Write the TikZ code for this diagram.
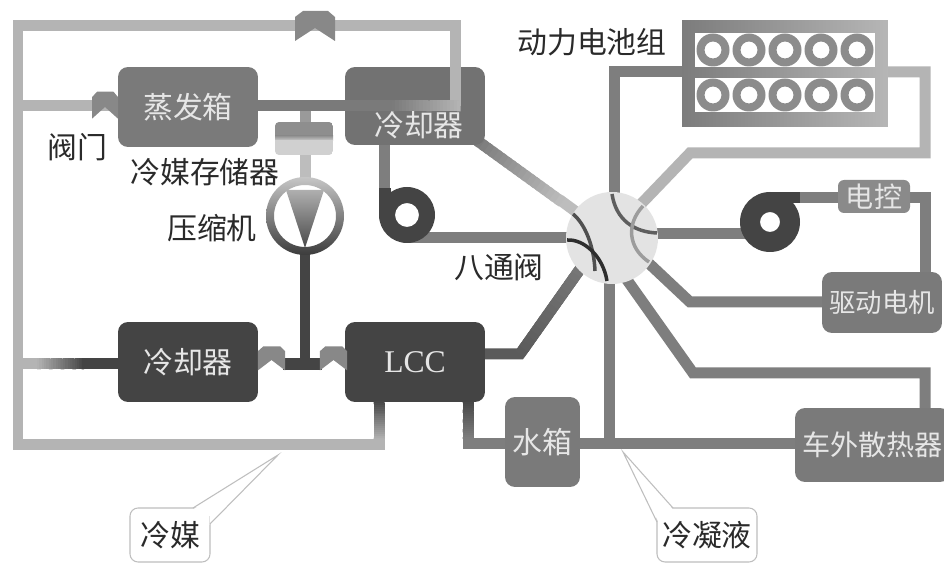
\documentclass[tikz,border=0pt]{standalone}
\usepackage{fontspec}
\setmainfont{Liberation Serif}
\newfontfamily\cjk{Noto Sans CJK SC}
\usetikzlibrary{calc}

\definecolor{dk}{HTML}{444444}
\definecolor{md}{HTML}{7A7A7A}
\definecolor{mdb}{HTML}{727272}
\definecolor{cl}{HTML}{7E7E7E}
\definecolor{lt}{HTML}{B4B4B4}
\definecolor{ltr}{HTML}{BDBDBD}
\definecolor{vlv}{HTML}{888888}
\definecolor{ecuc}{HTML}{8A8A8A}
\definecolor{ball}{HTML}{E3E3E3}
\definecolor{txtl}{HTML}{E6E6E6}
\definecolor{txtd}{HTML}{2A2A2A}
\definecolor{bub}{HTML}{BEBEBE}
\definecolor{lccp}{HTML}{5A5A5A}
\definecolor{stl}{HTML}{9A9A9A}
\definecolor{stA}{HTML}{8E8E8E}
\definecolor{stB}{HTML}{D0D0D0}
\definecolor{cmpt}{HTML}{C6C6C6}
\definecolor{cmpb}{HTML}{3C3C3C}
\definecolor{batl}{HTML}{7C7C7C}
\definecolor{batr}{HTML}{B6B6B6}
\definecolor{ringc}{HTML}{8C8C8C}
\definecolor{arcA}{HTML}{5E5E5E}
\definecolor{arcB}{HTML}{9C9C9C}
\definecolor{arcC}{HTML}{505050}
\definecolor{arcD}{HTML}{2E2E2E}

\tikzset{
  pipe/.style={line width=0.22cm},
  unitbox/.style={rounded corners=0.2cm, inner sep=0pt, text=txtl,
    font=\cjk\fontsize{17}{20}\selectfont},
  lbl/.style={inner sep=0pt, text=txtd, font=\cjk\fontsize{17}{20}\selectfont},
  bubble/.style={draw=bub, line width=0.6pt, fill=white, rounded corners=0.16cm,
    inner sep=0pt, text=txtd, font=\cjk\fontsize{17}{20}\selectfont},
  arcline/.style={line width=0.07cm}
}

% pipe whose colour fades from #3 to #4 between points #1 and #2
\newcommand\gradpipe[4]{%
  \foreach \k in {0,...,19}{%
    \pgfmathsetmacro\gpa{\k/20}%
    \pgfmathsetmacro\gpb{min(1,(\k+1.6)/20)}%
    \pgfmathsetmacro\gpc{97.5-5*\k}%
    \draw[pipe, line cap=butt, draw=#3!\gpc!#4] ($(#1)!\gpa!(#2)$) -- ($(#1)!\gpb!(#2)$);%
  }}

% valve symbol: x, y, xscale, yscale
\newcommand\valvesym[4]{%
  \fill[vlv, shift={(#1,#2)}, xscale=#3, yscale=#4]
    (-12,-17) -- (13,-17) -- (20,-11) -- (20,13) -- (0,0) -- (-20,13) -- (-20,-11) -- cycle;}

\begin{document}
\begin{tikzpicture}[x=0.02cm, y=-0.02cm]
\useasboundingbox (0,0) rectangle (944,563);
\fill[white] (0,0) rectangle (944,563);

% ---------- coolant circuit ----------
\draw[pipe, cl] (614,238) -- (614,72) -- (700,72);
\draw[pipe, lt] (880,72) -- (925,72) -- (925,153) -- (690,153) -- (618,228);
\draw[pipe, ltr] (560,200) -- (605,233);
\gradpipe{468,134}{562,202}{mdb}{ltr}
\draw[pipe, cl] (384,140) -- (384,192);
\draw[pipe, cl] (407,238) -- (600,238);
\draw[pipe, cl] (625,234) -- (760,234);
\draw[pipe, cl] (790,197.5) -- (845,197.5);
\draw[pipe, cl] (900,197.5) -- (925,197.5) -- (925,280);
\draw[pipe, cl] (640,255) -- (690,302) -- (830,302);
\draw[pipe, cl] (615,263) -- (693,373) -- (925,373) -- (925,415);
\draw[pipe, cl] (609,240) -- (609,444);
\draw[pipe, cl] (575,444) -- (800,444);
\draw[pipe, cl] (468,395) -- (468,444) -- (510,444);
\gradpipe{468,400}{468,439}{dk}{cl}
\draw[pipe, lccp] (480,354) -- (520,354) -- (595,248);
\gradpipe{520,354}{595,248}{lccp}{cl}

% ---------- refrigerant branches ----------
\draw[pipe, lt] (18,106) -- (120,106);
\draw[pipe, lt] (18,364) -- (40,364);
\gradpipe{37,364}{84,364}{lt}{dk}
\draw[pipe, dk] (82,364) -- (125,364);
\draw[pipe, stl] (305,106) -- (305,125);
\draw[pipe, ltr] (305,150) -- (305,182);
\draw[line width=0.2cm, dk] (305,250) -- (305,364);
\draw[line width=0.24cm, dk] (283,364) -- (322,364);

% ---------- units ----------
\node[unitbox, fill=md, minimum width=2.8cm, minimum height=1.6cm] (evap) at (188,107) {蒸发箱};
\node[unitbox, fill=mdb, minimum width=2.8cm, minimum height=1.56cm] (coolA) at (415,106) {};
\node[unitbox, fill=dk, minimum width=2.8cm, minimum height=1.6cm] (coolB) at (188,362) {冷却器};
\node[unitbox, fill=dk, minimum width=2.8cm, minimum height=1.6cm,
      font=\fontsize{18}{20}\selectfont] (lcc) at (415,362) {LCC};
\node[unitbox, fill=md, minimum width=1.5cm, minimum height=1.8cm] (tank) at (542.5,442) {水箱};
\node[unitbox, fill=md, minimum width=3.1cm, minimum height=1.48cm,
      font=\cjk\fontsize{16}{20}\selectfont] (rad) at (872.5,445) {车外散热器};
\node[unitbox, fill=md, minimum width=2.4cm, minimum height=1.22cm,
      font=\cjk\fontsize{15}{18}\selectfont] (motor) at (882,302.5) {驱动电机};
\node[unitbox, fill=ecuc, minimum width=1.44cm, minimum height=0.66cm, rounded corners=0.12cm,
      font=\cjk\fontsize{16}{18}\selectfont] (ecu) at (874,196.5) {电控};
\node[unitbox] (coolAtext) at (419,125) {冷却器};

% ---------- refrigerant main loop ----------
\draw[pipe, lt] (379,420) -- (379,445) -- (18,445) -- (18,26) -- (455,26) -- (455,106);
\draw[pipe, md] (256,106) -- (395,106);
\gradpipe{392,106}{460.5,106}{md}{lt}
\gradpipe{379,401}{379,439.5}{dk}{lt}

% ---------- coils ----------
\fill[dk, even odd rule] (407,215) circle (28) (407,215) circle (12);
\fill[dk] (378.5,188) rectangle (391,215);
\fill[dk, even odd rule] (770,222) circle (30) (770,222) circle (10);
\fill[dk] (770,192) rectangle (800,203);

% ---------- refrigerant store ----------
\node[minimum width=1.16cm, minimum height=0.66cm, inner sep=0pt] (store) at (304,138.5) {};
\begin{scope}[rounded corners=0.08cm]
  \clip (275,122) rectangle (333,155);
  \fill[stA, sharp corners] (275,122) rectangle (333,136);
  \shade[top color=stA, bottom color=stB, sharp corners] (275,135.5) rectangle (333,141);
  \fill[stB, sharp corners] (275,140.5) rectangle (333,155);
\end{scope}

% ---------- compressor ----------
\coordinate (cmp) at (305,216);
\begin{scope}[even odd rule]
  \clip (cmp) circle (39) (cmp) circle (31);
  \shade[top color=cmpt, bottom color=cmpb] (260,177) rectangle (350,255);
\end{scope}
\begin{scope}
  \clip (286,190) -- (324,190) -- (305,248) -- cycle;
  \shade[top color=cmpt, bottom color=cmpb] (260,177) rectangle (350,255);
\end{scope}

% ---------- battery pack ----------
\node[minimum width=4.12cm, minimum height=2.14cm, inner sep=0pt,
      left color=batl, right color=batr] (batt) at (785,73.5) {};
\fill[white] (695,33) rectangle (875,67);
\fill[white] (695,78) rectangle (875,112);
\foreach \cx in {713,749,785,821,857}{
  \fill[ringc, even odd rule] (\cx,50) circle (16.5) (\cx,50) circle (8.5);
  \fill[ringc, even odd rule] (\cx,95) circle (16.5) (\cx,95) circle (8.5);
}

% ---------- eight-way valve ----------
\node[circle, fill=ball, minimum size=1.84cm, inner sep=0pt] (oct) at (612,238) {};
\begin{scope}[shift={(612,238)}]
  \draw[arcline, arcA] (0,-44) .. controls (4,-18) and (22,-6) .. (45,-5);
  \draw[arcline, arcB] (31,-32) .. controls (14,-14) and (16,10) .. (37,24);
  \draw[arcline, arcC] (-39,-24) .. controls (-27,-14) and (-18,8) .. (-17,33);
  \draw[arcline, arcD] (-45,2) .. controls (-28,1) and (-9,18) .. (-5,43);
\end{scope}

% ---------- valves ----------
\valvesym{315}{28}{1}{1}
\valvesym{105}{107}{0.65}{0.9}
\valvesym{271.5}{360}{0.68}{0.8}
\valvesym{333.5}{360}{0.68}{0.8}

% ---------- labels ----------
\node[lbl] (tValve) at (77,147) {阀门};
\node[lbl] (tStore) at (205,172) {冷媒存储器};
\node[lbl] (tComp) at (212,228) {压缩机};
\node[lbl] (tOct) at (499,267) {八通阀};
\node[lbl] (tBatt) at (592,42) {动力电池组};

% ---------- callouts ----------
\node[bubble, minimum width=1.6cm, minimum height=1.08cm] (bRef) at (170,535) {冷媒};
\coordinate (pRef) at (278,455);
\fill[white] (193,509.5) -- (pRef) -- (209.5,525) -- (209.5,516) -- (202,509.5) -- cycle;
\draw[bub, line width=0.6pt] (193,508) -- (pRef) -- (210,524);

\node[bubble, minimum width=2cm, minimum height=1.08cm] (bCool) at (707,535) {冷凝液};
\coordinate (pCool) at (623,452);
\fill[white] (673,509.5) -- (pCool) -- (658.5,522) -- (658.5,516) -- (665,509.5) -- cycle;
\draw[bub, line width=0.6pt] (673,508) -- (pCool) -- (657,522);
\end{tikzpicture}
\end{document}
